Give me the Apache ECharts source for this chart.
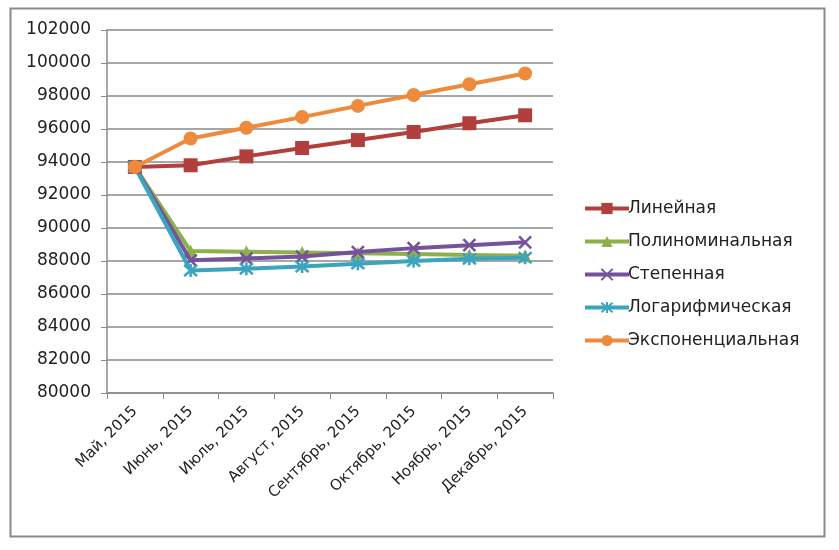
<!DOCTYPE html>
<html><head><meta charset="utf-8">
<script src="https://cdn.jsdelivr.net/npm/echarts@6/dist/echarts.min.js"></script>
<style>html,body{margin:0;padding:0;background:#fff}#c{width:839px;height:550px}</style>
</head><body><div id="c"></div>
<script>
const categories = ['Май, 2015','Июнь, 2015','Июль, 2015','Август, 2015','Сентябрь, 2015','Октябрь, 2015','Ноябрь, 2015','Декабрь, 2015'];
const linear = [93700, 93800, 94340, 94850, 95330, 95820, 96350, 96830];
const poly = [93700, 88600, 88560, 88520, 88470, 88420, 88370, 88320];
const power = [93700, 88040, 88150, 88270, 88540, 88780, 88960, 89130];
const logar = [93700, 87420, 87530, 87660, 87840, 88000, 88130, 88200];
const expo = [93700, 95420, 96080, 96720, 97400, 98060, 98710, 99360];
const yTicks = {min: 80000, max: 102000, interval: 2000};

const names = ['Линейная','Полиноминальная','Степенная','Логарифмическая','Экспоненциальная'];
const colors = ['#B13F3C','#8DB04A','#75539B','#3BA4BE','#EE8A3C'];
const symbols = ['rect','triangle','path://M0 0L10 10M10 0L0 10','path://M0 0L10 10M10 0L0 10M5 -1L5 11','circle'];
const sizes = [14, 13, 12, 13, 14];
const datas = [linear, poly, power, logar, expo];

const chart = echarts.init(document.getElementById('c'));
const font = 'DejaVu Sans, sans-serif';
chart.setOption({
  animation: false,
  graphic: [{type:'rect', shape:{x:10.5,y:8.5,width:814,height:528}, style:{fill:'none', stroke:'#8a8a8a', lineWidth:2}, silent:true}],
  grid: {left:107, right:286, top:30, bottom:157},
  xAxis: {
    type:'category', data: categories, boundaryGap:true,
    axisLine:{lineStyle:{color:'#8a8a8a', width:1.5}},
    axisTick:{show:true, alignWithLabel:false, length:6, lineStyle:{color:'#8a8a8a'}},
    axisLabel:{rotate:45, color:'#222', fontFamily:font, fontSize:15, margin:16, interval:0}
  },
  yAxis: {
    type:'value', min:yTicks.min, max:yTicks.max, interval:yTicks.interval,
    axisLine:{show:true, lineStyle:{color:'#8a8a8a', width:1.5}},
    axisTick:{show:true, length:6, lineStyle:{color:'#8a8a8a'}},
    splitLine:{lineStyle:{color:'#8a8a8a', width:1.5}},
    axisLabel:{color:'#222', fontFamily:font, fontSize:17, margin:16, formatter: v => String(v)}
  },
  legend: {
    orient:'vertical', left:578, top:195, itemWidth:44, itemHeight:14, itemGap:16,
    lineStyle:{width:4},
    textStyle:{color:'#222', fontFamily:font, fontSize:17, padding:[0,0,0,-6]},
    data: names
  },
  series: names.map((n,i)=>({
    name:n, type:'line', data: datas[i], symbol: symbols[i], symbolSize: sizes[i],
    showAllSymbol:true, z: i===4?7:(i===0?6:3+i),
    lineStyle:{color:colors[i], width:4},
    itemStyle:{color: (i===2||i===3)?'rgba(0,0,0,0)':colors[i], borderColor:colors[i], borderWidth:(i===2||i===3)?2.5:0}
  }))
});
</script></body></html>
